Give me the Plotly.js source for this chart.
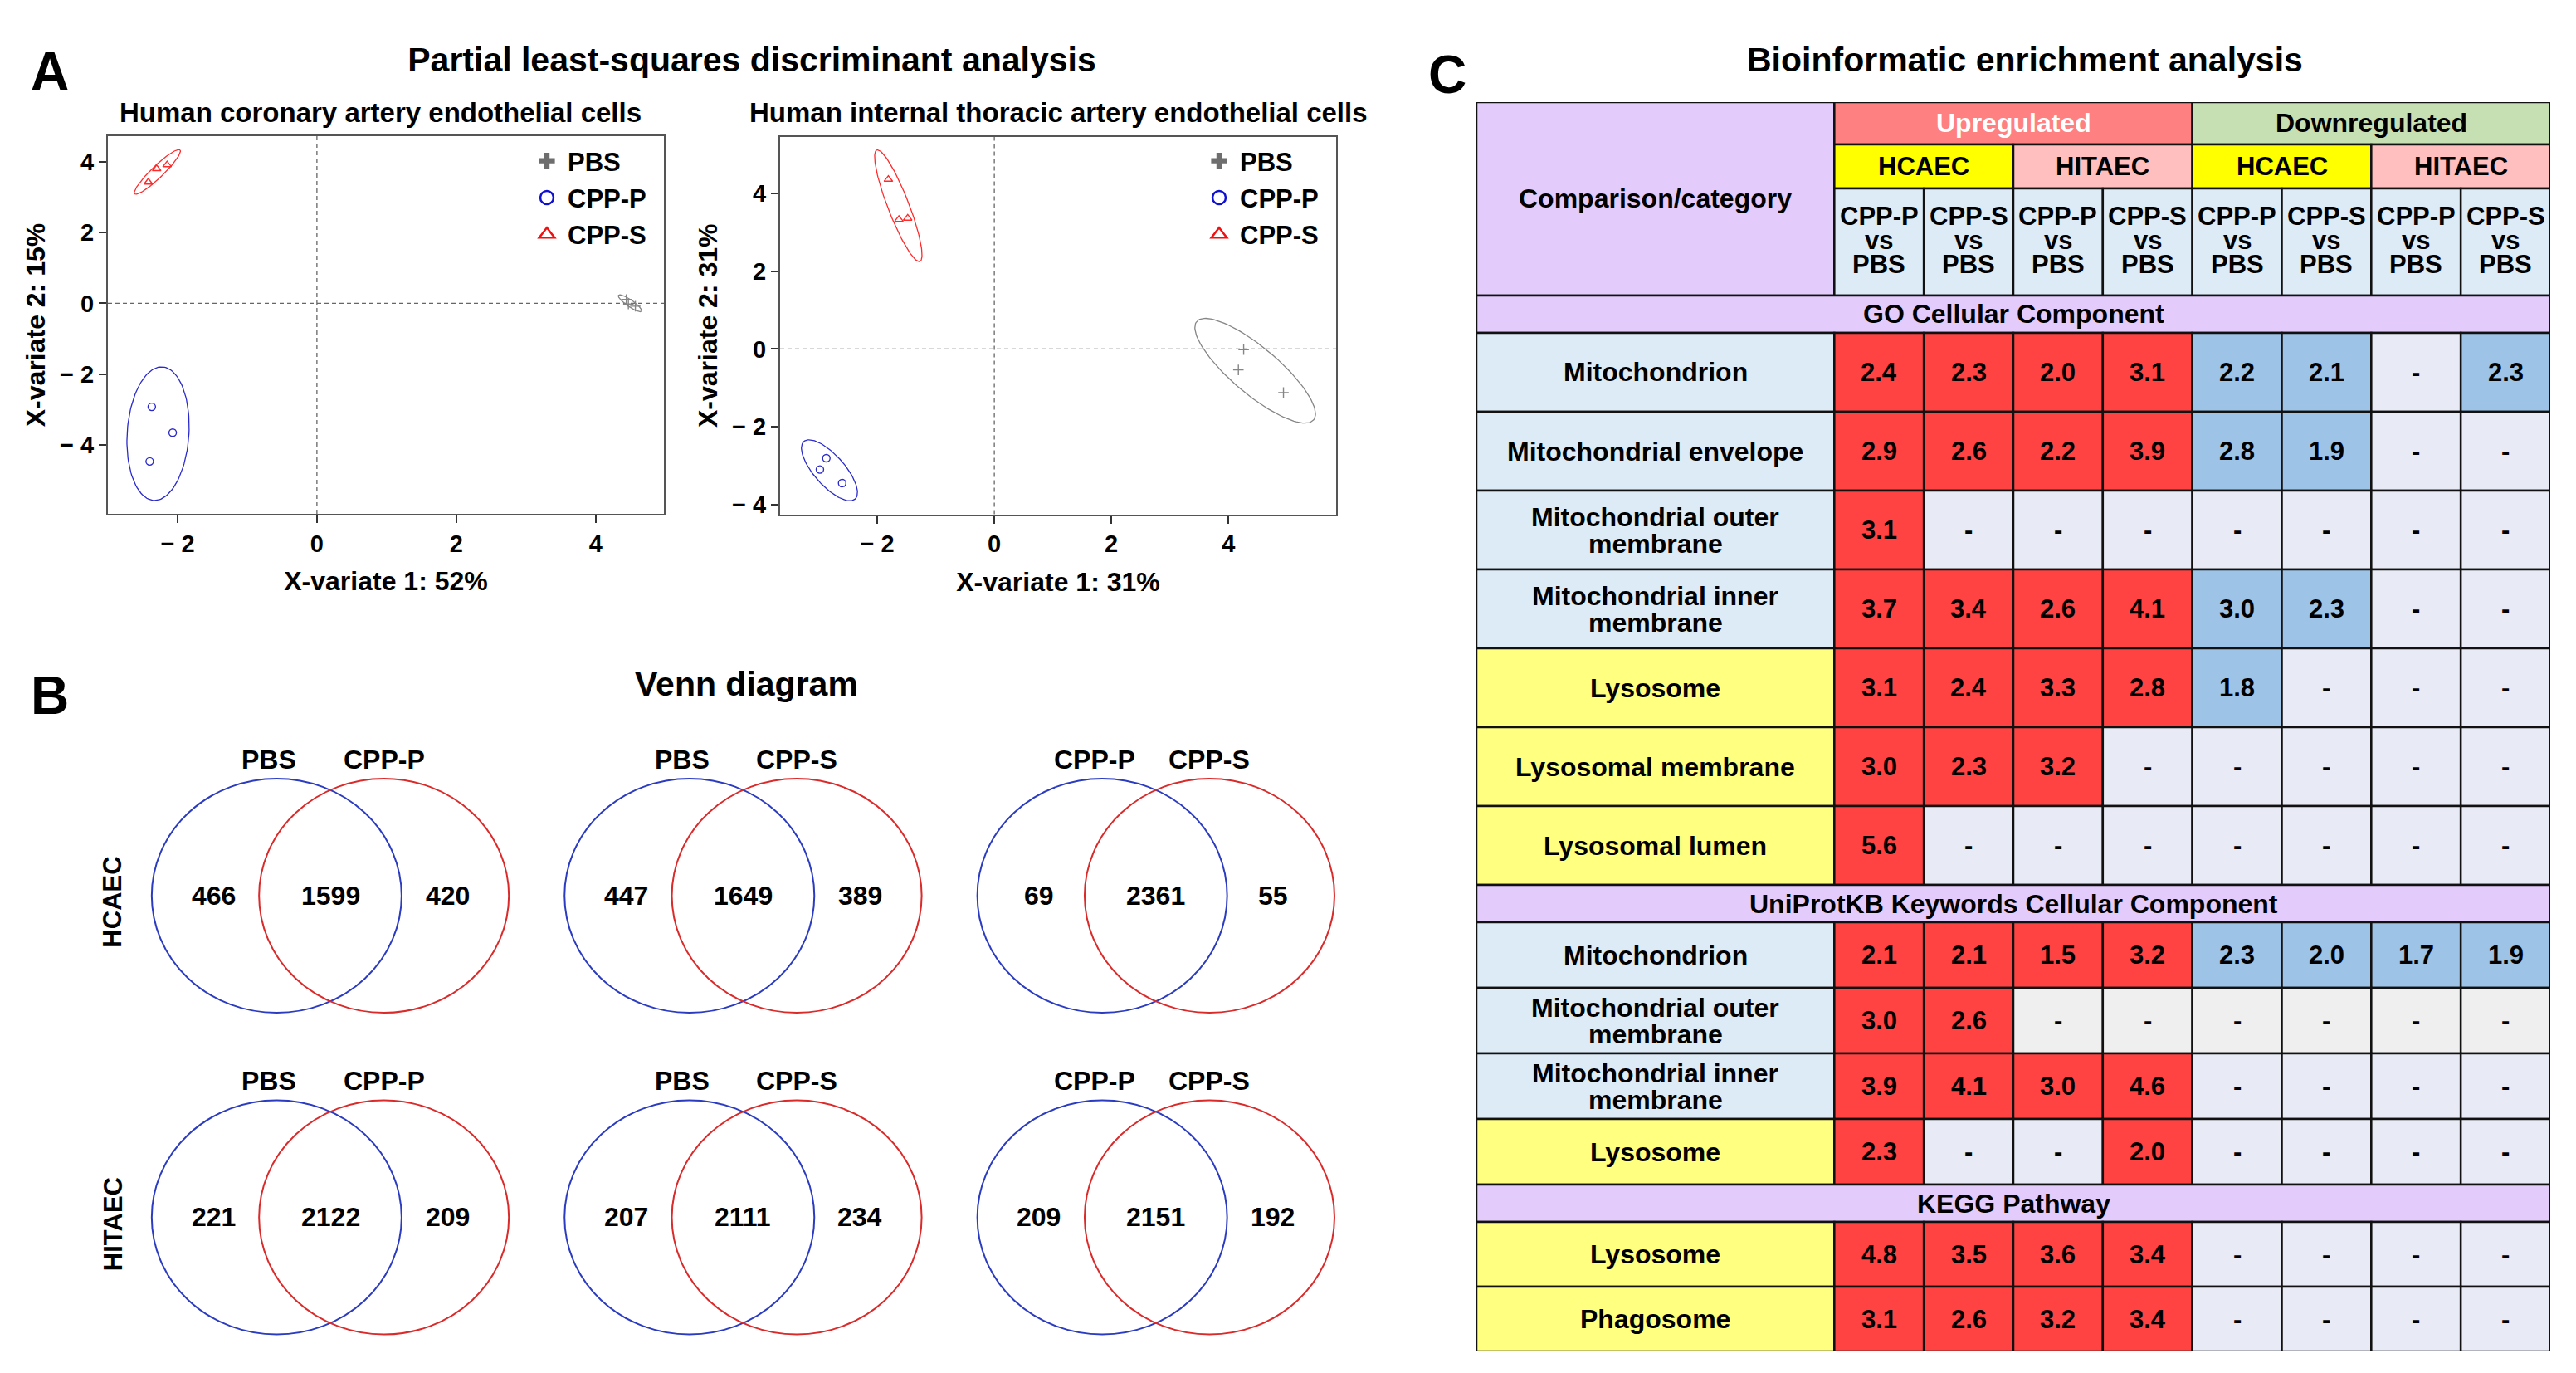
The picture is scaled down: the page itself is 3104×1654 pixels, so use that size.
<!DOCTYPE html>
<html><head><meta charset="utf-8">
<script src="https://cdn.plot.ly/plotly-3.0.1.min.js"></script>
<style>html,body{margin:0;padding:0;background:#fff}#chart{width:3104px;height:1654px}</style>
</head><body><div id="chart"></div>
<script>
// ================= DATA =================
// Panel A: PLS-DA sample scores (X-variate 1, X-variate 2)
const plsGroups = ['PBS', 'CPP-P', 'CPP-S'];
const hcaecVariance = [52, 15];
const hcaecPBS_x  = [4.44, 4.47, 4.57];
const hcaecPBS_y  = [0.11, -0.02, -0.08];
const hcaecCPPP_x = [-2.37, -2.07, -2.40];
const hcaecCPPP_y = [-2.92, -3.65, -4.46];
const hcaecCPPS_x = [-2.42, -2.30, -2.15];
const hcaecCPPS_y = [3.42, 3.80, 3.91];
const hitaecVariance = [31, 31];
const hitaecPBS_x  = [4.26, 4.17, 4.94];
const hitaecPBS_y  = [-0.02, -0.54, -1.12];
const hitaecCPPP_x = [-2.87, -2.98, -2.60];
const hitaecCPPP_y = [-2.81, -3.10, -3.45];
const hitaecCPPS_x = [-1.81, -1.63, -1.48];
const hitaecCPPS_y = [4.36, 3.33, 3.36];
const plsTickValsX = [-2, 0, 2, 4];
const plsTickValsY = [-4, -2, 0, 2, 4];

// Panel B: Venn counts [only first, shared, only second]
const vennPairs = [['PBS', 'CPP-P'], ['PBS', 'CPP-S'], ['CPP-P', 'CPP-S']];
const vennCellLines = ['HCAEC', 'HITAEC'];
const vennHCAEC  = [[466, 1599, 420], [447, 1649, 389], [69, 2361, 55]];
const vennHITAEC = [[221, 2122, 209], [207, 2111, 234], [209, 2151, 192]];

// Panel C: enrichment table (fold enrichment, null = not enriched)
const regulation = ['Upregulated', 'Downregulated'];
const cellLines = ['HCAEC', 'HITAEC'];
const comparisons = ['CPP-P vs PBS', 'CPP-S vs PBS'];
const sectionNames = ['GO Cellular Component', 'UniProtKB Keywords Cellular Component', 'KEGG Pathway'];
const goTerms = ['Mitochondrion', 'Mitochondrial envelope', 'Mitochondrial outer membrane',
  'Mitochondrial inner membrane', 'Lysosome', 'Lysosomal membrane', 'Lysosomal lumen'];
const goValues = [
  [2.4, 2.3, 2.0, 3.1, 2.2, 2.1, null, 2.3],
  [2.9, 2.6, 2.2, 3.9, 2.8, 1.9, null, null],
  [3.1, null, null, null, null, null, null, null],
  [3.7, 3.4, 2.6, 4.1, 3.0, 2.3, null, null],
  [3.1, 2.4, 3.3, 2.8, 1.8, null, null, null],
  [3.0, 2.3, 3.2, null, null, null, null, null],
  [5.6, null, null, null, null, null, null, null]
];
const uniprotTerms = ['Mitochondrion', 'Mitochondrial outer membrane', 'Mitochondrial inner membrane', 'Lysosome'];
const uniprotValues = [
  [2.1, 2.1, 1.5, 3.2, 2.3, 2.0, 1.7, 1.9],
  [3.0, 2.6, null, null, null, null, null, null],
  [3.9, 4.1, 3.0, 4.6, null, null, null, null],
  [2.3, null, null, 2.0, null, null, null, null]
];
const keggTerms = ['Lysosome', 'Phagosome'];
const keggValues = [
  [4.8, 3.5, 3.6, 3.4, null, null, null, null],
  [3.1, 2.6, 3.2, 3.4, null, null, null, null]
];

// ================= STYLE / GEOMETRY =================
const W = 3104, H = 1654;
const FONT = 'Liberation Sans, Arial, Helvetica, sans-serif';
const PX = v => v / W, PY = v => 1 - v / H;
const bold = (size, color) => ({family: FONT, size: size, color: color || '#000', weight: 'bold'});
const groupColor = {'PBS': '#858585', 'CPP-P': '#2A2ACC', 'CPP-S': '#FF2A2A'};
const groupSymbol = {'PBS': 'cross-thin-open', 'CPP-P': 'circle-open', 'CPP-S': 'triangle-up-open'};
const legendSymbol = {'PBS': 'cross', 'CPP-P': 'circle-open', 'CPP-S': 'triangle-up-open'};
const legendColor = {'PBS': '#6E6E6E', 'CPP-P': '#1010D0', 'CPP-S': '#F01010'};
const VENN_BLUE = '#2B3CC0', VENN_RED = '#DA2A2A';
const C = {purple: '#E3CCFB', up: '#FF8080', down: '#C6E0B4', hcaec: '#FFFF00', hitaec: '#FFBFBF',
  sub: '#DDEBF7', mitoLabel: '#DDEBF7', lysoLabel: '#FFFF80', upCell: '#FF4343', downCell: '#9DC3E6',
  empty: '#E8EBF5', emptyGray: '#EFEFEF'};

// 95% confidence ellipse (as in mixOmics / ellipse package)
function confEllipse(xs, ys) {
  const n = xs.length, t = Math.sqrt(5.991465);
  const mx = xs.reduce((a, b) => a + b, 0) / n, my = ys.reduce((a, b) => a + b, 0) / n;
  let sxx = 0, syy = 0, sxy = 0;
  for (let i = 0; i < n; i++) {
    sxx += (xs[i] - mx) ** 2; syy += (ys[i] - my) ** 2; sxy += (xs[i] - mx) * (ys[i] - my);
  }
  sxx /= (n - 1); syy /= (n - 1); sxy /= (n - 1);
  const sx = Math.sqrt(sxx), sy = Math.sqrt(syy);
  const d = Math.acos(sxy / (sx * sy));
  const ex = [], ey = [];
  for (let k = 0; k <= 120; k++) {
    const a = 2 * Math.PI * k / 120;
    ex.push(t * sx * Math.cos(a + d / 2) + mx);
    ey.push(t * sy * Math.cos(a - d / 2) + my);
  }
  return [ex, ey];
}

const traces = [];
function addPls(xa, ya, legendName, sets) {
  plsGroups.forEach((g, i) => {
    const [xs, ys] = sets[i];
    const [ex, ey] = confEllipse(xs, ys);
    traces.push({type: 'scatter', mode: 'lines', x: ex, y: ey, xaxis: xa, yaxis: ya,
      line: {color: groupColor[g], width: 1.3}, hoverinfo: 'skip', showlegend: false});
    traces.push({type: 'scatter', mode: 'markers', x: xs, y: ys, xaxis: xa, yaxis: ya, name: g,
      marker: {symbol: groupSymbol[g], size: 9, color: groupColor[g], line: {color: groupColor[g], width: 1.4}},
      showlegend: false});
  });
  plsGroups.forEach(g => {
    traces.push({type: 'scatter', mode: 'markers', x: [null], y: [null], xaxis: xa, yaxis: ya, name: g,
      legend: legendName, legendgroup: legendName + g,
      marker: {symbol: legendSymbol[g], size: 16, color: legendColor[g],
        line: {color: legendColor[g], width: g === 'PBS' ? 0 : 2.5}}});
  });
}
addPls('x', 'y', 'legend', [[hcaecPBS_x, hcaecPBS_y], [hcaecCPPP_x, hcaecCPPP_y], [hcaecCPPS_x, hcaecCPPS_y]]);
addPls('x2', 'y2', 'legend2', [[hitaecPBS_x, hitaecPBS_y], [hitaecCPPP_x, hitaecCPPP_y], [hitaecCPPS_x, hitaecCPPS_y]]);

const minusTxt = v => v < 0 ? '\u2212 ' + Math.abs(v) : String(v);
function plsAxis(domain, range, title, standoff, ticks) {
  return {domain: domain, range: range, autorange: false, showline: true, mirror: true,
    linecolor: '#555', linewidth: 2, ticks: 'outside', ticklen: 9, tickwidth: 2, tickcolor: '#333',
    showgrid: false, zeroline: false, tickmode: 'array', tickvals: ticks, ticktext: ticks.map(minusTxt),
    tickfont: bold(29), fixedrange: true,
    title: {text: title, font: bold(32), standoff: standoff}};
}

const shapes = [], annotations = [];
// zero reference lines
[['x', 'y'], ['x2', 'y2']].forEach(([xa, ya]) => {
  shapes.push({type: 'line', xref: xa, yref: ya + ' domain', x0: 0, x1: 0, y0: 0, y1: 1, layer: 'below',
    line: {color: '#666', width: 1.3, dash: '5px,4px'}});
  shapes.push({type: 'line', xref: xa + ' domain', yref: ya, x0: 0, x1: 1, y0: 0, y1: 0, layer: 'below',
    line: {color: '#666', width: 1.3, dash: '5px,4px'}});
});

// ---- Panel B Venn diagrams (axis x3/y3: column = pair index, row = cell line index)
const V = {off: 0.13, rx: 0.3026, ry: 0.3639, num: 0.2835, labY: -0.4245, labL: -0.148, labR: 0.13};
[vennHCAEC, vennHITAEC].forEach((counts, r) => {
  annotations.push({xref: 'x3', yref: 'y3', x: -0.527, y: r + 0.02, text: vennCellLines[r], textangle: -90,
    showarrow: false, font: bold(31)});
  counts.forEach((cnt, c) => {
    shapes.push({type: 'circle', xref: 'x3', yref: 'y3', x0: c - V.off - V.rx, x1: c - V.off + V.rx,
      y0: r - V.ry, y1: r + V.ry, line: {color: VENN_BLUE, width: 2}});
    shapes.push({type: 'circle', xref: 'x3', yref: 'y3', x0: c + V.off - V.rx, x1: c + V.off + V.rx,
      y0: r - V.ry, y1: r + V.ry, line: {color: VENN_RED, width: 2}});
    [-V.num, 0, V.num].forEach((dx, k) => annotations.push({xref: 'x3', yref: 'y3', x: c + dx, y: r,
      text: String(cnt[k]), showarrow: false, font: bold(32)}));
    annotations.push({xref: 'x3', yref: 'y3', x: c + V.labL, y: r + V.labY, text: vennPairs[c][0], showarrow: false, font: bold(32)});
    annotations.push({xref: 'x3', yref: 'y3', x: c + V.labR, y: r + V.labY, text: vennPairs[c][1], showarrow: false, font: bold(32)});
  });
});

// ---- Panel C table (axis x4/y4: x in column units, y in table pixel units)
const LW = 4;                     // label column width (column units)
const hdrH = [51, 53, 129];
const secH = 45;
const rowH = [95, 79, 78];
const BORDER = {color: '#111', width: 2.5};
function cell(x0, x1, y0, y1, fill) {
  shapes.push({type: 'rect', xref: 'x4', yref: 'y4', x0: x0, x1: x1, y0: y0, y1: y1, fillcolor: fill, line: BORDER, layer: 'above'});
}
function txt(x, y, text, size, color, yshift) {
  annotations.push({xref: 'x4', yref: 'y4', x: x, y: y, text: text, showarrow: false, font: bold(size, color), yshift: yshift || 0});
}
const y1h = hdrH[0], y2h = hdrH[0] + hdrH[1], y3h = hdrH[0] + hdrH[1] + hdrH[2];
cell(-LW, 0, 0, y3h, C.purple); txt(-LW / 2, y3h / 2, 'Comparison/category', 32);
regulation.forEach((g, i) => {
  cell(i * 4, i * 4 + 4, 0, y1h, i === 0 ? C.up : C.down);
  txt(i * 4 + 2, y1h / 2, g, 32, i === 0 ? '#fff' : '#000');
  cellLines.forEach((cl, k) => {
    const x0 = i * 4 + k * 2;
    cell(x0, x0 + 2, y1h, y2h, k === 0 ? C.hcaec : C.hitaec);
    txt(x0 + 1, (y1h + y2h) / 2, cl, 31);
    comparisons.forEach((cmp, m) => {
      const xj = x0 + m;
      cell(xj, xj + 1, y2h, y3h, C.sub);
      const parts = cmp.split(' ');
      const cy = (y2h + y3h) / 2;
      txt(xj + 0.5, cy, parts[0], 31, '#000', 31);
      txt(xj + 0.5, cy, parts[1], 31, '#000', 2);
      txt(xj + 0.5, cy, parts[2], 31, '#000', -27);
    });
  });
});
let yy = y3h;
[[goTerms, goValues], [uniprotTerms, uniprotValues], [keggTerms, keggValues]].forEach(([terms, vals], si) => {
  cell(-LW, 8, yy, yy + secH, C.purple);
  txt((8 - LW) / 2, yy + secH / 2, sectionNames[si], 32);
  yy += secH;
  terms.forEach((term, ti) => {
    const h = rowH[si], cy = yy + h / 2;
    cell(-LW, 0, yy, yy + h, term.startsWith('Mito') ? C.mitoLabel : C.lysoLabel);
    if (term.length > 24) {
      const cut = term.lastIndexOf(' ');
      txt(-LW / 2, cy, term.slice(0, cut), 32, '#000', 16);
      txt(-LW / 2, cy, term.slice(cut + 1), 32, '#000', -16);
    } else {
      txt(-LW / 2, cy, term, 32);
    }
    const grayEmpty = (si === 1 && term === 'Mitochondrial outer membrane');
    vals[ti].forEach((v, j) => {
      const fill = v === null ? (grayEmpty ? C.emptyGray : C.empty) : (j < 4 ? C.upCell : C.downCell);
      cell(j, j + 1, yy, yy + h, fill);
      txt(j + 0.5, cy, v === null ? '-' : v.toFixed(1), 31);
    });
    yy += h;
  });
});
const tableBottom = yy;

// ---- panel labels & titles
function paperTxt(x, y, text, size, extra) {
  annotations.push(Object.assign({xref: 'paper', yref: 'paper', x: PX(x), y: PY(y), text: text, showarrow: false,
    xanchor: 'center', yanchor: 'middle', font: bold(size)}, extra || {}));
}
paperTxt(60, 86, 'A', 64);
paperTxt(60, 838, 'B', 64);
paperTxt(1744, 90, 'C', 64);
paperTxt(458, 135, 'Human coronary artery endothelial cells', 33);
paperTxt(1275, 135, 'Human internal thoracic artery endothelial cells', 33);
paperTxt(899, 824, 'Venn diagram', 41);
paperTxt(2440, 72, 'Bioinformatic enrichment analysis', 41);

const legendBase = {xanchor: 'left', yanchor: 'top', bgcolor: 'rgba(0,0,0,0)', borderwidth: 0,
  font: bold(31), itemwidth: 40, tracegroupgap: 1, traceorder: 'grouped'};
const layout = {
  width: W, height: H, margin: {l: 0, r: 0, t: 0, b: 0},
  paper_bgcolor: '#fff', plot_bgcolor: '#fff',
  font: {family: FONT, size: 30, color: '#000', weight: 'bold'},
  title: {text: 'Partial least-squares discriminant analysis', x: PX(906), y: PY(72), xref: 'paper', yref: 'paper',
    xanchor: 'center', yanchor: 'middle', font: bold(41)},
  xaxis: Object.assign(plsAxis([PX(130), PX(800)], [-3.0, 4.98], 'X-variate 1: ' + hcaecVariance[0] + '%', 19, plsTickValsX), {anchor: 'y'}),
  yaxis: Object.assign(plsAxis([PY(619), PY(164)], [-5.94, 4.72], 'X-variate 2: ' + hcaecVariance[1] + '%', 8, plsTickValsY), {anchor: 'x'}),
  xaxis2: Object.assign(plsAxis([PX(940), PX(1610)], [-3.66, 5.84], 'X-variate 1: ' + hitaecVariance[0] + '%', 19, plsTickValsX), {anchor: 'y2'}),
  yaxis2: Object.assign(plsAxis([PY(619.5), PY(165)], [-4.25, 5.45], 'X-variate 2: ' + hitaecVariance[1] + '%', 8, plsTickValsY), {anchor: 'x2'}),
  xaxis3: {domain: [0, PX(1700)], range: [-0.8002, 2.6176], visible: false, fixedrange: true, anchor: 'y3'},
  yaxis3: {domain: [0, PY(780)], range: [1.4839, -0.7716], visible: false, fixedrange: true, anchor: 'x3'},
  xaxis4: {domain: [PX(1779), PX(3073)], range: [-LW, 8], visible: false, fixedrange: true, anchor: 'y4'},
  yaxis4: {domain: [PY(123 + tableBottom), PY(123)], range: [tableBottom, 0], visible: false, fixedrange: true, anchor: 'x4'},
  legend: Object.assign({x: PX(634), y: PY(167)}, legendBase),
  legend2: Object.assign({x: PX(1444), y: PY(167)}, legendBase),
  shapes: shapes, annotations: annotations, hovermode: false
};
Plotly.newPlot('chart', traces, layout, {displayModeBar: false, staticPlot: true});
</script></body></html>
